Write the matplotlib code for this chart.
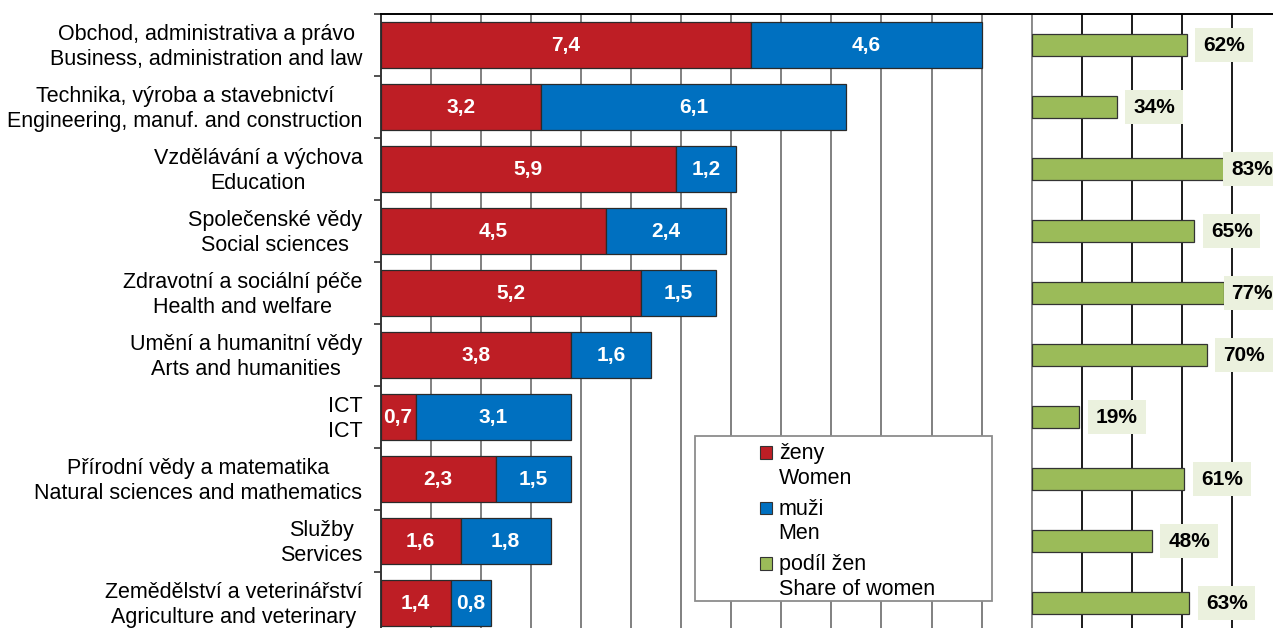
import matplotlib
matplotlib.use('Agg')
import matplotlib.pyplot as plt
import matplotlib.transforms as mtransforms
import numpy as np
from matplotlib.patches import Rectangle, Patch
from matplotlib.legend_handler import HandlerPatch

categories_cz = ["Obchod, administrativa a právo", "Technika, výroba a stavebnictví",
                 "Vzdělávání a výchova", "Společenské vědy", "Zdravotní a sociální péče",
                 "Umění a humanitní vědy", "ICT", "Přírodní vědy a matematika",
                 "Služby", "Zemědělství a veterinářství"]
categories_en = ["Business, administration and law", "Engineering, manuf. and construction",
                 "Education", "Social sciences", "Health and welfare",
                 "Arts and humanities", "ICT", "Natural sciences and mathematics",
                 "Services", "Agriculture and veterinary"]
women = [7.4, 3.2, 5.9, 4.5, 5.2, 3.8, 0.7, 2.3, 1.6, 1.4]
men = [4.6, 6.1, 1.2, 2.4, 1.5, 1.6, 3.1, 1.5, 1.8, 0.8]
share_women = [62, 34, 83, 65, 77, 70, 19, 61, 48, 63]
legend_labels = ["ženy\nWomen", "muži\nMen", "podíl žen\nShare of women"]

RED = '#BE1E25'
BLUE = '#0070C0'
GREEN = '#9BBB59'
LABEL_BG = '#EBF1DE'

plt.rcParams['font.family'] = ['Liberation Sans', 'DejaVu Sans']

W, H = 1273, 628
fig = plt.figure(figsize=(W / 100, H / 100), dpi=100)


def fx(px):
    return px / W


def fy(py):
    return 1 - py / H


n = len(categories_en)
y = np.arange(n)
women_a = np.array(women)
men_a = np.array(men)
share_a = np.array(share_women) / 100.0

axL = fig.add_axes([fx(380.5), fy(634), fx(1031.7) - fx(380.5), 620 / H])
axR = fig.add_axes([fx(1031.7), fy(634), 250 / W, 620 / H])

# Left: stacked bars
axL.barh(y, women_a, height=0.74, color=RED, edgecolor='#2a2a2a', linewidth=0.9, zorder=3)
axL.barh(y, men_a, left=women_a, height=0.74, color=BLUE, edgecolor='#2a2a2a', linewidth=0.9, zorder=3)
axL.set_xlim(0, 13)
axL.set_ylim(n - 0.5, -0.5)
axL.set_xticks(np.arange(1, 14))
axL.tick_params(axis='x', length=0, labelbottom=False)
axL.grid(axis='x', color='#808080', linewidth=1.4, zorder=0)
axL.set_axisbelow(True)
for s in ['bottom', 'right']:
    axL.spines[s].set_visible(False)
axL.spines['top'].set_color('black')
axL.spines['top'].set_linewidth(1.4)
axL.spines['left'].set_color('#333333')
axL.spines['left'].set_linewidth(1.4)

axL.set_yticks(np.arange(-0.5, n, 1.0))
axL.set_yticklabels([])
axL.tick_params(axis='y', which='major', length=5, width=1.2, color='#333333')
axL.set_yticks(y, [f"{c}\n{e}" for c, e in zip(categories_cz, categories_en)], minor=True)
axL.tick_params(axis='y', which='minor', length=0, pad=13, labelsize=15.5)
shift_down = mtransforms.ScaledTranslation(0, -0.02, fig.dpi_scale_trans)
for lab in axL.get_yticklabels(minor=True):
    lab.set_multialignment('center')
    lab.set_linespacing(1.22)
    lab.set_verticalalignment('center')
    lab.set_transform(lab.get_transform() + shift_down)

for i in range(n):
    axL.text(women_a[i] / 2, y[i], f"{women[i]:.1f}".replace('.', ','), ha='center', va='center',
             color='white', fontsize=15, fontweight='bold', zorder=4)
    axL.text(women_a[i] + men_a[i] / 2, y[i], f"{men[i]:.1f}".replace('.', ','), ha='center',
             va='center', color='white', fontsize=15, fontweight='bold', zorder=4)

# Right: share of women
axR.barh(y, share_a, height=0.34, color=GREEN, edgecolor='#333333', linewidth=0.9, zorder=3)
axR.set_xlim(0, 1)
axR.set_ylim(n - 0.5, -0.5)
axR.set_xticks([0.2, 0.4, 0.6, 0.8])
axR.tick_params(axis='both', length=0, labelbottom=False, labelleft=False)
axR.grid(axis='x', color='#1a1a1a', linewidth=1.4, zorder=0)
axR.set_axisbelow(True)
for s in ['bottom', 'right']:
    axR.spines[s].set_visible(False)
axR.spines['top'].set_color('black')
axR.spines['top'].set_linewidth(1.4)
axR.spines['left'].set_color('#8c8c8c')
axR.spines['left'].set_linewidth(1.4)

box_w = 0.236
for i in range(n):
    left = min(share_a[i] + 0.032, 1.0 - box_w)
    axR.text(left + box_w / 2, y[i], f"{share_women[i]}%", ha='center', va='center',
             fontsize=15, fontweight='bold', color='black', zorder=5,
             bbox=dict(boxstyle='square,pad=0.38', facecolor=LABEL_BG, edgecolor='none'))

# Legend
frame = Rectangle((fx(695), fy(601)), fx(992) - fx(695), (601 - 436) / H,
                  transform=fig.transFigure, facecolor='white', edgecolor='#8c8c8c',
                  linewidth=1.3, zorder=1)
fig.add_artist(frame)


def square_up(legend, orig_handle, xdescent, ydescent, width, height, fontsize):
    return Rectangle((-xdescent, -ydescent + 0.64 * fontsize), width, height)


handles = [Patch(facecolor=RED, edgecolor='#333333', linewidth=0.8),
           Patch(facecolor=BLUE, edgecolor='#333333', linewidth=0.8),
           Patch(facecolor=GREEN, edgecolor='#333333', linewidth=0.8)]
leg = fig.legend(handles, legend_labels, loc='upper left', bbox_to_anchor=(fx(760), fy(443)),
                 frameon=False, fontsize=15.5, handlelength=0.55, handleheight=0.55,
                 handletextpad=0.32, labelspacing=0.47, borderpad=0, borderaxespad=0,
                 handler_map={Patch: HandlerPatch(patch_func=square_up)})
for t in leg.get_texts():
    t.set_linespacing(1.22)

fig.savefig('out.png', dpi=100)
